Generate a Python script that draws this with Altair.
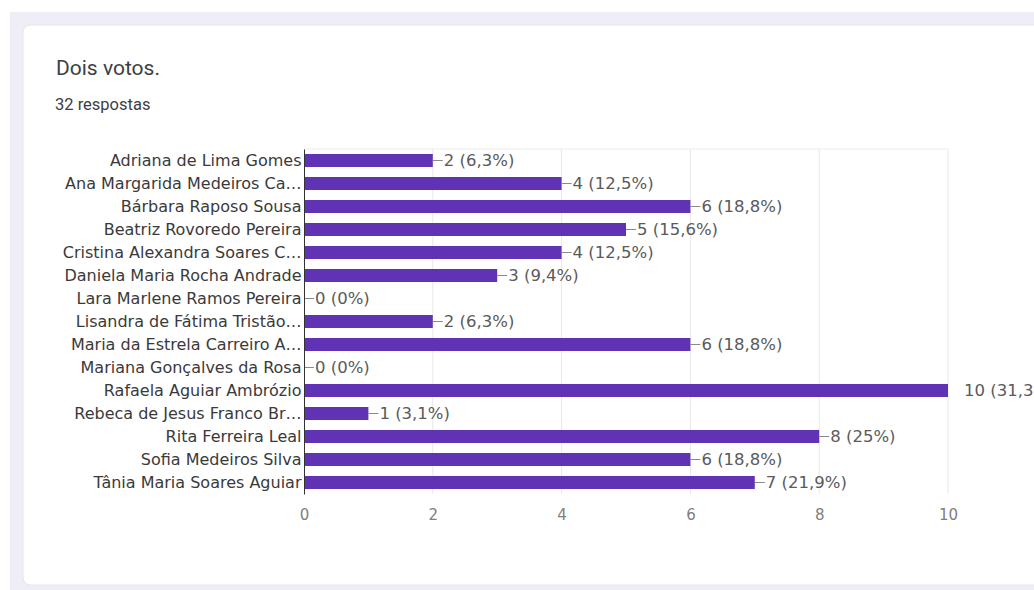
import altair as alt
import pandas as pd

names = [
    "Adriana de Lima Gomes",
    "Ana Margarida Medeiros Ca…",
    "Bárbara Raposo Sousa",
    "Beatriz Rovoredo Pereira",
    "Cristina Alexandra Soares C…",
    "Daniela Maria Rocha Andrade",
    "Lara Marlene Ramos Pereira",
    "Lisandra de Fátima Tristão…",
    "Maria da Estrela Carreiro A…",
    "Mariana Gonçalves da Rosa",
    "Rafaela Aguiar Ambrózio",
    "Rebeca de Jesus Franco Br…",
    "Rita Ferreira Leal",
    "Sofia Medeiros Silva",
    "Tânia Maria Soares Aguiar",
]
votes = [2, 4, 6, 5, 4, 3, 0, 2, 6, 0, 10, 1, 8, 6, 7]
pcts = ["6,3%", "12,5%", "18,8%", "15,6%", "12,5%", "9,4%", "0%", "6,3%",
        "18,8%", "0%", "31,3%", "3,1%", "25%", "18,8%", "21,9%"]
x_ticks = [0, 2, 4, 6, 8, 10]
grid_values = [2, 4, 6, 8, 10]

title_text = "Dois votos."
subtitle_text = "32 respostas"

df = pd.DataFrame({
    "name": names,
    "votes": votes,
    "label": [f"{v} ({p})" for v, p in zip(votes, pcts)],
})
grid_df = pd.DataFrame({"votes": grid_values})
max_votes = max(votes)

W, H = 644, 345
LEFT, TOP = 304, 149
BAR = "#5f33b3"

one = alt.Chart(pd.DataFrame({"k": [0]}))

frame = one.mark_rect(color="#efeef6").encode(
    x=alt.value(10 - LEFT), x2=alt.value(1100),
    y=alt.value(12 - TOP), y2=alt.value(700),
)
card = one.mark_rect(color="white", stroke="#e6e5ec", strokeWidth=1, cornerRadius=8).encode(
    x=alt.value(23 - LEFT), x2=alt.value(1100),
    y=alt.value(25 - TOP), y2=alt.value(585 - TOP),
)
title = one.mark_text(
    align="left", baseline="alphabetic", font="Roboto", fontSize=21, color="#3c4043"
).encode(x=alt.value(56 - LEFT), y=alt.value(75 - TOP), text=alt.value(title_text))
subtitle = one.mark_text(
    align="left", baseline="alphabetic", font="Roboto", fontSize=16.5, color="#3c4043"
).encode(x=alt.value(55 - LEFT), y=alt.value(110 - TOP), text=alt.value(subtitle_text))

x_scale = alt.Scale(domain=[0, 10], nice=False)
x_enc = alt.X(
    "votes:Q",
    scale=x_scale,
    axis=alt.Axis(
        values=x_ticks, format="d", title=None, domain=False, ticks=False, grid=False,
        labelFont="DejaVu Sans", labelFontSize=15, labelColor="#808080",
        labelPadding=13, labelFlush=False, zindex=1,
    ),
)
y_enc = alt.Y(
    "name:N", sort=names,
    scale=alt.Scale(paddingInner=0, paddingOuter=0),
    axis=alt.Axis(
        title=None, ticks=False, domain=True, domainColor="#333333",
        labelFont="DejaVu Sans", labelFontSize=16, labelColor="#3a3a3a",
        labelPadding=3, labelLimit=400, grid=False, zindex=1,
    ),
)

grid = alt.Chart(grid_df).mark_rule(color="#e8e8e8", strokeWidth=1).encode(
    x=alt.X("votes:Q", scale=x_scale),
    y=alt.value(0), y2=alt.value(H),
)
top_line = one.mark_rule(color="#ececec", strokeWidth=1).encode(
    x=alt.value(0), x2=alt.value(W), y=alt.value(0)
)

base = alt.Chart(df)
bars = base.mark_bar(color=BAR, size=13).encode(x=x_enc, y=y_enc)

stems = base.transform_filter(alt.datum.votes < max_votes).mark_rule(
    color="#8a8a8a", strokeWidth=1, x2Offset=10
).encode(x="votes:Q", x2="votes:Q", y=alt.Y("name:N", sort=names))

labels_norm = base.transform_filter(alt.datum.votes < max_votes).mark_text(
    align="left", baseline="middle", dx=11, font="DejaVu Sans", fontSize=16.5, color="#5a5a5a"
).encode(x="votes:Q", y=alt.Y("name:N", sort=names), text="label:N")

labels_max = base.transform_filter(alt.datum.votes >= max_votes).mark_text(
    align="left", baseline="middle", dx=16, font="DejaVu Sans", fontSize=16.5, color="#5a5a5a"
).encode(x="votes:Q", y=alt.Y("name:N", sort=names), text="label:N")

chart = alt.layer(
    frame, card, title, subtitle, grid, top_line, bars, stems, labels_norm, labels_max
).properties(
    width=W, height=H,
    autosize=alt.AutoSizeParams(type="none"),
    padding={"left": LEFT, "top": TOP, "right": 1034 - LEFT - W, "bottom": 590 - TOP - H},
    background="white",
).configure_view(stroke=None)

chart.save("out.html", embed_options={"renderer": "svg", "actions": False})
